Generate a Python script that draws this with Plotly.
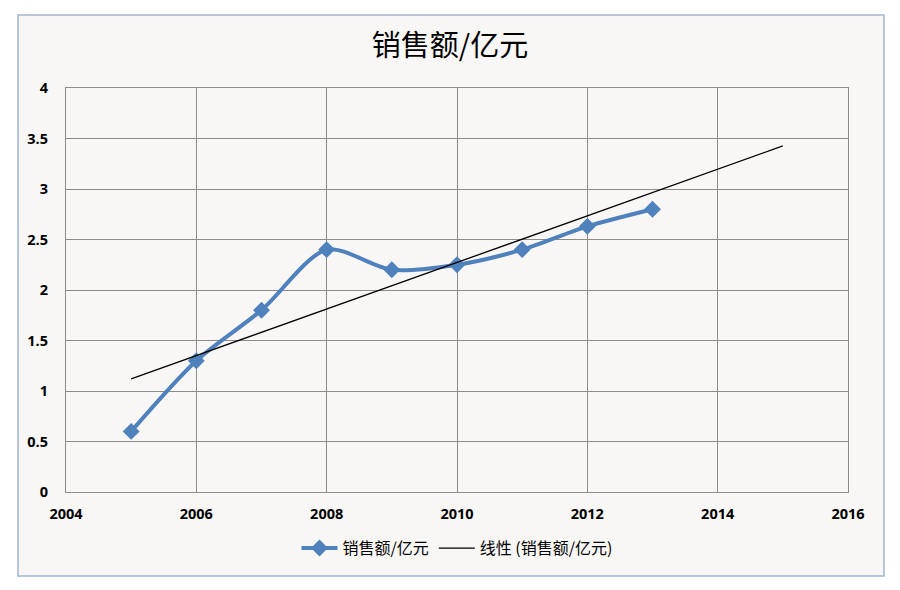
import numpy as np
import plotly.graph_objects as go

years = [2005, 2006, 2007, 2008, 2009, 2010, 2011, 2012, 2013]
sales = [0.6, 1.3, 1.8, 2.4, 2.2, 2.25, 2.4, 2.63, 2.8]
trend_years = [2005, 2015]
series_name = "销售额/亿元"
trend_name = "线性 (销售额/亿元)"
title_text = "销售额/亿元"

coef = np.polyfit(years, sales, 1)
trend_vals = [float(np.polyval(coef, x)) for x in trend_years]

fig = go.Figure()
fig.add_trace(go.Scatter(
    x=years, y=sales, name=series_name, mode="lines+markers",
    line=dict(color="#4F81BD", width=4, shape="spline", smoothing=0.8),
    marker=dict(symbol="diamond", size=13, color="#4F81BD"),
))
fig.add_trace(go.Scatter(
    x=trend_years, y=trend_vals, name=trend_name, mode="lines",
    line=dict(color="#000000", width=1.3),
))

grid = "#8E8B88"
tickfont = dict(family="Open Sans", size=14.5, color="#000", weight="bold")
fig.update_layout(
    width=900, height=590,
    paper_bgcolor="#FFFFFF",
    plot_bgcolor="#F8F7F5",
    margin=dict(l=66, r=52, t=88, b=98),
    title=dict(text=title_text, x=0.5, xanchor="center", y=1 - 46/590, yanchor="middle",
               font=dict(family="Noto Sans CJK SC", size=29, color="#000")),
    showlegend=True,
    legend=dict(orientation="h", x=0.5, xanchor="center", y=-0.139, yanchor="middle",
                font=dict(family="Noto Sans CJK SC", size=16, color="#000"),
                bgcolor="rgba(0,0,0,0)", itemwidth=36),
    xaxis=dict(range=[2004, 2016], dtick=2, tick0=2004, showgrid=True, gridcolor=grid,
               gridwidth=1.3, zeroline=False, showline=True, linecolor=grid, linewidth=1.3,
               mirror=True, ticks="", ticklabelstandoff=8, tickfont=tickfont),
    yaxis=dict(range=[0, 4], dtick=0.5, showgrid=True, gridcolor=grid, gridwidth=1.3,
               zeroline=False, showline=True, linecolor=grid, linewidth=1.3, mirror=True,
               ticks="", ticklabelstandoff=14, tickfont=tickfont),
)

# chart area background and border
fig.add_shape(type="rect", xref="paper", yref="paper", layer="below",
              x0=-48/782, x1=(884-66)/782, y0=(492-576)/404, y1=(492-15)/404,
              fillcolor="#F8F7F5", line=dict(color="#A3B5CE", width=1.5))

fig.write_html("out.html")
